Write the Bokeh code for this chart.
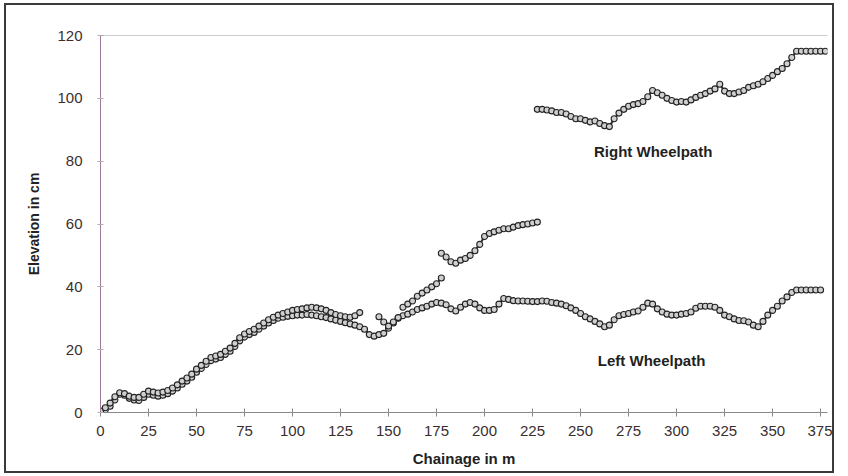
import numpy as np
from bokeh.plotting import figure
from bokeh.models import Range1d, FixedTicker, Span, Label
from bokeh.embed import file_html
from bokeh.resources import INLINE

# ---- data ----
x_ticks = [0, 25, 50, 75, 100, 125, 150, 175, 200, 225, 250, 275, 300, 325, 350, 375]
y_ticks = [0, 20, 40, 60, 80, 100, 120]

left_chainage = np.arange(0, 375.1, 2.5)
left_elev = [
    0, 0.8, 2, 4, 5.8, 5.5, 4.5, 4, 3.8, 4.8,
    5.8, 5.5, 5.2, 5.5, 6, 6.8, 7.8, 9, 10, 11.2,
    12.8, 14, 15.3, 16.5, 17, 17.5, 18.5, 19.5, 21, 22.8,
    24, 24.8, 25.5, 26.5, 27.5, 28.5, 29.3, 30, 30.3, 30.6,
    30.8, 31, 31, 31.2, 31, 30.8, 30.5, 30.2, 29.8, 29.4,
    29, 28.6, 28.2, 27.8, 27.3, 26.5, 24.8, 24.3, 24.8, 25.2,
    26.8, 28.5, 30, 30.8, 31.3, 32, 32.8, 33.3, 33.8, 34.5,
    35, 34.8, 34.3, 33, 32.3, 33.5, 34.5, 35, 34.5, 33.3,
    32.5, 32.5, 32.8, 34.5, 36.3, 36, 35.6, 35.5, 35.5, 35.4,
    35.3, 35.3, 35.5, 35.4, 35, 34.8, 34.5, 34, 33.3, 32.5,
    31.5, 30.5, 29.8, 29, 28.2, 27.3, 27.8, 29.5, 30.8, 31.2,
    31.5, 32, 32.3, 33.5, 34.8, 34.5, 33, 32, 31.3, 31,
    31, 31.3, 31.5, 32, 33.2, 33.8, 33.8, 33.8, 33.5, 32.5,
    31, 30.5, 29.8, 29.3, 29.2, 28.8, 27.8, 27.3, 29, 31,
    32.5, 33.8, 35.5, 36.8, 38.2, 39, 39, 39, 39, 39, 39,
]

# right wheelpath, recorded in pieces
right_chainage_1 = np.arange(0, 135.1, 2.5)
right_elev_1 = [
    0.5, 1.5, 3, 5, 6.3, 6, 5.2, 4.8, 4.8, 5.8,
    6.8, 6.5, 6.2, 6.5, 7, 7.8, 8.8, 10, 11, 12.2,
    13.8, 15, 16.3, 17.5, 18, 18.5, 19.5, 20.5, 22, 23.8,
    25, 25.8, 26.5, 27.5, 28.5, 29.5, 30.3, 31, 31.5, 32,
    32.5, 32.8, 33, 33.3, 33.5, 33.3, 33, 32.5, 31.8, 31.2,
    30.8, 30.5, 30.3, 30.8, 31.8,
]
right_chainage_2 = np.arange(145, 155.1, 2.5)
right_elev_2 = [30.5, 28.8, 27.5, 28.8, 30.2]
right_chainage_3 = np.arange(157.5, 177.6, 2.5)
right_elev_3 = [33.5, 34.5, 35.5, 37, 38, 39, 40, 41, 42.8]
right_chainage_4 = np.arange(177.5, 227.6, 2.5)
right_elev_4 = [
    50.7, 49.5, 48, 47.5, 48.5, 49, 50, 51.5, 53.5, 56,
    57, 57.5, 58, 58.5, 58.5, 59, 59.5, 59.8, 60, 60.3, 60.6,
]
right_chainage_5 = np.arange(227.5, 377.6, 2.5)
right_elev_5 = [
    96.5, 96.5, 96.3, 96, 95.5, 95.5, 95, 94.2, 93.5, 93.5,
    93, 92.5, 92.8, 92, 91.3, 91, 93.5, 95.3, 96.5, 97.5,
    98, 98.3, 99, 100.5, 102.5, 101.8, 101, 100, 99.3, 98.8,
    99, 98.8, 99.5, 100.3, 101, 101.5, 102.3, 103, 104.5, 102.3,
    101.5, 101.5, 102, 102.5, 103.5, 104, 104.5, 105.3, 106.3, 107.3,
    108.5, 109.5, 111, 113, 115, 115, 115, 115, 115, 115, 115,
]

FONT = "Liberation Sans"

p = figure(width=830, height=470, output_backend="svg", toolbar_location=None,
           x_range=Range1d(0, 378.6), y_range=Range1d(0, 120),
           min_border_left=94, min_border_right=9, min_border_top=30, min_border_bottom=63)
p.styles = {"border": "2px solid #3a3a3a", "margin-left": "4px", "margin-top": "3px"}
p.outline_line_color = None
p.background_fill_color = "white"
p.border_fill_color = "white"
p.xgrid.visible = False
p.ygrid.visible = False

# top boundary of plot area
p.add_layout(Span(location=120, dimension="width", line_color="#9a9a9a", line_width=1))

segments = [
    (left_chainage, left_elev),
    (right_chainage_1, right_elev_1),
    (right_chainage_2, right_elev_2),
    (right_chainage_3, right_elev_3),
    (right_chainage_4, right_elev_4),
    (right_chainage_5, right_elev_5),
]
for xs, ys in segments:
    xs = list(xs)[:len(ys)]
    p.line(xs, ys, line_color="#2e2e2e", line_width=2)
    p.scatter(xs, ys, marker="circle", size=6, fill_color="#cfcfcf",
              line_color="#222222", line_width=1.1)

p.add_layout(Label(x=257, y=83, text="Right Wheelpath", text_font=FONT,
                   text_font_size="15px", text_font_style="bold", text_color="#231f20",
                   text_baseline="middle", text_align="left"))
p.add_layout(Label(x=259, y=16.7, text="Left Wheelpath", text_font=FONT,
                   text_font_size="15px", text_font_style="bold", text_color="#231f20",
                   text_baseline="middle", text_align="left"))

xa = p.xaxis[0]
xa.ticker = FixedTicker(ticks=x_ticks)
xa.axis_line_color = "#8a8a8a"
xa.major_tick_line_color = "#8a8a8a"
xa.major_tick_in = 4
xa.major_tick_out = 4
xa.minor_tick_line_color = None
xa.major_label_text_font = FONT
xa.major_label_text_font_size = "15px"
xa.major_label_text_color = "#3b2e2e"
xa.major_label_standoff = 9
xa.axis_label = "Chainage in m"
xa.axis_label_text_font = FONT
xa.axis_label_text_font_size = "15px"
xa.axis_label_text_font_style = "bold"
xa.axis_label_text_color = "#222222"
xa.axis_label_standoff = 11

ya = p.yaxis[0]
ya.ticker = FixedTicker(ticks=y_ticks)
ya.axis_line_color = "#a07a98"
ya.major_tick_line_color = "#b0b0b0"
ya.major_tick_in = 3
ya.major_tick_out = 3
ya.minor_tick_line_color = None
ya.major_label_text_font = FONT
ya.major_label_text_font_size = "15px"
ya.major_label_text_color = "#3b2e2e"
ya.major_label_standoff = 15
ya.axis_label = "Elevation in cm"
ya.axis_label_text_font = FONT
ya.axis_label_text_font_size = "14px"
ya.axis_label_text_font_style = "bold"
ya.axis_label_text_color = "#222222"
ya.axis_label_standoff = 12

open("out.html", "w").write(file_html(p, INLINE))
